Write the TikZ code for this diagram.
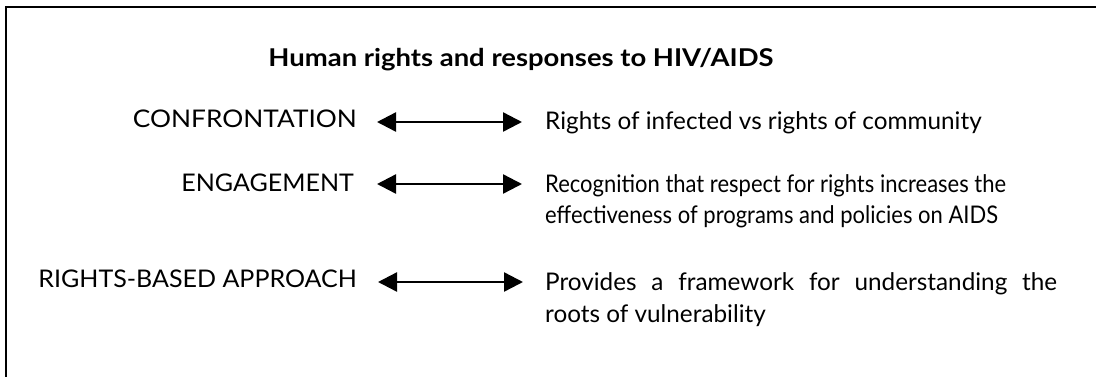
\documentclass[tikz,border=0pt]{standalone}
\usepackage{fontspec}
\setmainfont{Lato}
\newfontfamily\capsfont{Lato}[FakeStretch=1.08]
\newfontfamily\capsnarrow{Lato}[FakeStretch=1.03]
\newfontfamily\condfont{Lato}[FakeStretch=0.905]
\newfontfamily\titlefont{Lato}[FakeStretch=1.12]
\usetikzlibrary{arrows.meta}
\begin{document}
\begin{tikzpicture}[x=1pt,y=-1pt,
  lbl/.style={font=\fontsize{24.3}{31}\selectfont, inner sep=0pt},
  condlbl/.style={font=\fontsize{24.3}{31}\selectfont\condfont, inner sep=0pt},
  capslbl/.style={font=\fontsize{24.3}{31}\selectfont\capsfont, inner sep=0pt},
  capsnlbl/.style={font=\fontsize{24.3}{31}\selectfont\capsnarrow, inner sep=0pt},
  ttl/.style={font=\fontsize{24.5}{31}\titlefont\bfseries, inner sep=0pt},
  dbl/.style={line width=2.4pt, {Triangle[length=19pt,width=19pt]}-{Triangle[length=19pt,width=19pt]}}]
\useasboundingbox (0,0) rectangle (1096,376);
\clip (0,0) rectangle (1096,376);
\draw[line width=2pt] (6,7) rectangle (1200,500);
\node[ttl, anchor=base] (title) at (521,66) {Human rights and responses to HIV/AIDS};
\node[capslbl, anchor=base east] (c1) at (357,127) {CONFRONTATION};
\node[capsnlbl, anchor=base east] (c2) at (354,191) {ENGAGEMENT};
\node[capsnlbl, anchor=base east] (c3) at (357,287) {RIGHTS-BASED APPROACH};
\node[lbl, anchor=base west] (r1) at (545,129) {Rights of infected vs rights of community};
\node[condlbl, anchor=base west] (r2a) at (545,192) {Recognition that respect for rights increases the};
\node[condlbl, anchor=base west] (r2b) at (545,223) {effectiveness of programs and policies on AIDS};
\node[lbl, anchor=base west] (r3a) at (545,290) {\makebox[512pt][s]{Provides a framework for understanding the}};
\node[lbl, anchor=base west] (r3b) at (545,322) {roots of vulnerability};
\draw[dbl] ([shift={(20,-5)}]c1.base east) -- ([shift={(-23,-7)}]r1.base west);
\draw[dbl] ([shift={(23,-7)}]c2.base east) -- ([shift={(-23,-8)}]r2a.base west);
\draw[dbl] ([shift={(21,-5)}]c3.base east) -- ([shift={(-22,-8)}]r3a.base west);
\end{tikzpicture}
\end{document}
